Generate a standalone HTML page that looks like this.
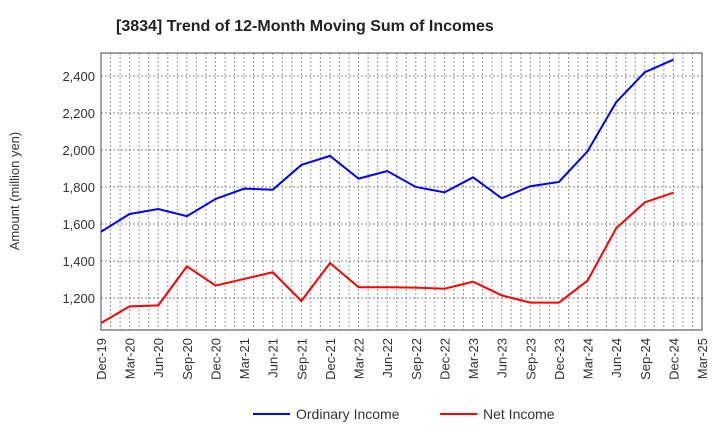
<!DOCTYPE html>
<html><head><meta charset="utf-8"><style>
body{margin:0;background:#fff;font-family:"Liberation Sans",sans-serif}
</style></head><body>
<svg width="720" height="440" xmlns="http://www.w3.org/2000/svg" font-family="Liberation Sans, sans-serif">
<text x="116" y="31" font-size="16" font-weight="bold" fill="#222">[3834]  Trend of 12-Month Moving Sum of Incomes</text>
<g id="grid"></g>
<g id="axes"></g>
<g id="series"></g>
<text transform="translate(19,191) rotate(-90)" text-anchor="middle" font-size="13" fill="#333">Amount (million yen)</text>
<g>
<g><line x1="253" y1="414" x2="290" y2="414" stroke="#0000ff" stroke-width="2"/><text x="296" y="419" font-size="14" fill="#333">Ordinary Income</text></g>
<g><line x1="440" y1="414" x2="477" y2="414" stroke="#ff0000" stroke-width="2"/><text x="483" y="419" font-size="14" fill="#333">Net Income</text></g>
</g>
</svg>
<script>
const categories=["Dec-19","Mar-20","Jun-20","Sep-20","Dec-20","Mar-21","Jun-21","Sep-21","Dec-21","Mar-22","Jun-22","Sep-22","Dec-22","Mar-23","Jun-23","Sep-23","Dec-23","Mar-24","Jun-24","Sep-24","Dec-24","Mar-25"];
const ordinaryIncome=[1558,1654,1681,1642,1735,1791,1785,1919,1968,1845,1886,1800,1771,1852,1739,1804,1827,1993,2258,2420,2488];
const netIncome=[1065,1155,1160,1371,1267,1303,1339,1184,1389,1258,1258,1256,1250,1288,1214,1175,1175,1294,1577,1717,1769];
const yTicks=[1200,1400,1600,1800,2000,2200,2400];
const NS="http://www.w3.org/2000/svg";
const L=101,R=702,T=53,B=330,yMin=1027,yMax=2524;
const xs=i=>L+(R-L)*i/(categories.length-1);
const ys=v=>B-(v-yMin)/(yMax-yMin)*(B-T);
function mk(tag,attrs,parent,text){const e=document.createElementNS(NS,tag);for(const k in attrs)e.setAttribute(k,attrs[k]);if(text!==undefined)e.textContent=text;parent.appendChild(e);return e;}
const grid=document.getElementById('grid'),axes=document.getElementById('axes'),series=document.getElementById('series');
const n=(categories.length-1)*3;
for(let j=1;j<n;j++){const x=L+(R-L)*j/n;const g=mk('line',{x1:x,x2:x,y1:T,y2:B,stroke:'#999','stroke-dasharray':'2,2','stroke-width':1},grid);

}
yTicks.forEach(v=>{const y=ys(v);const g=mk('line',{x1:L,x2:R,y1:y,y2:y,stroke:'#888','stroke-dasharray':'2,2','stroke-width':1},grid);


const t=mk('text',{x:L-6,y:y+5,'text-anchor':'end','font-size':13,fill:'#333'},axes,v.toLocaleString('en-US'));

});
const fr=mk('rect',{x:L,y:T,width:R-L,height:B-T,fill:'none',stroke:'#444','stroke-width':1},axes);


categories.forEach((c,i)=>{const x=xs(i);const t=mk('text',{transform:`translate(${x+5},${B+8}) rotate(-90)`,'text-anchor':'end','font-size':13,fill:'#333'},axes,c);

});
function line(vals,color,name){const p=mk('polyline',{points:vals.map((v,i)=>xs(i)+','+ys(v)).join(' '),fill:'none',stroke:color,'stroke-width':2},series);

}
line(ordinaryIncome,'#0000ff','ordinary-income-line');
line(netIncome,'#ff0000','net-income-line');
</script>
</body></html>
